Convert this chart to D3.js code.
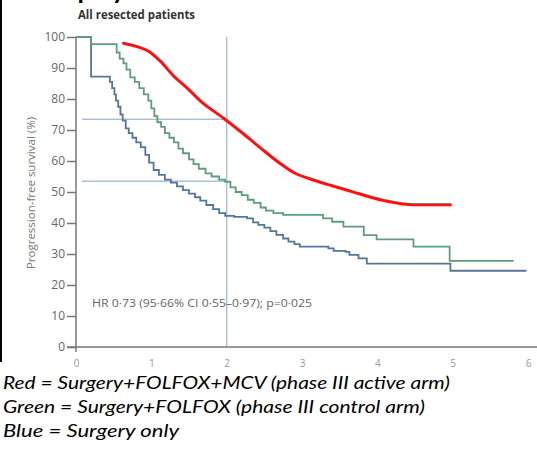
<!DOCTYPE html>
<html>
<head>
<meta charset="utf-8">
<script src="https://cdn.jsdelivr.net/npm/d3@7"></script>
<style>
  body { margin: 0; background: #fff; }
  svg { display: block; }
</style>
</head>
<body>
<svg id="chart" width="537" height="449"></svg>
<script>
/**
 * Data.
 */
const xTicks = [0, 1, 2, 3, 4, 5, 6],
    yTicks = [0, 10, 20, 30, 40, 50, 60, 70, 80, 90, 100];

// Surgery+FOLFOX (green), step curve [years, %]
const greenSteps = [
    [0, 100], [0.2, 97.7], [0.54, 95], [0.58, 93], [0.63, 91.5], [0.67, 89.5], [0.72, 87],
    [0.78, 85.5], [0.84, 83.5], [0.9, 81.5], [0.96, 79.5], [1.0, 77], [1.04, 74.5], [1.08, 72.5],
    [1.13, 71], [1.18, 69], [1.24, 67.5], [1.3, 66], [1.36, 64], [1.42, 62.5], [1.5, 60.5],
    [1.56, 59], [1.63, 57.5], [1.72, 56], [1.8, 55], [1.9, 54], [1.98, 53.3], [2.05, 51.5],
    [2.12, 50], [2.2, 49], [2.28, 47.5], [2.36, 46.5], [2.45, 45], [2.52, 44], [2.62, 43.2],
    [2.75, 42.6], [3.28, 41.5], [3.4, 40.4], [3.55, 38.8], [3.82, 36.1], [3.99, 34.7],
    [4.48, 32.4], [4.96, 27.8], [5.81, 27.8]
];

// Surgery only (blue), step curve [years, %]
const blueSteps = [
    [0, 100], [0.2, 87.2], [0.45, 85.5], [0.48, 83.5], [0.51, 81.5], [0.53, 79.5], [0.56, 77.5],
    [0.59, 75], [0.62, 73], [0.66, 70.5], [0.7, 69], [0.75, 67.5], [0.8, 66], [0.86, 64.5],
    [0.92, 62], [0.97, 59.5], [1.03, 57.1], [1.1, 55.5], [1.18, 54], [1.26, 53], [1.34, 51.8],
    [1.42, 50.6], [1.5, 49.5], [1.58, 48.3], [1.65, 47.2], [1.73, 45.8], [1.82, 44.5], [1.9, 43.2],
    [1.98, 42.3], [2.1, 42], [2.27, 41.5], [2.35, 40.2], [2.42, 39.4], [2.5, 38.5], [2.58, 37.4],
    [2.66, 36.2], [2.75, 35], [2.82, 34], [2.9, 33.2], [2.97, 32.4], [3.35, 31.8], [3.42, 31],
    [3.58, 30.7], [3.63, 29.7], [3.75, 28.6], [3.86, 26.9], [4.97, 24.6], [5.98, 24.6]
];

// Surgery+FOLFOX+MCV (red), smooth curve [years, %]
const redCurve = [
    [0.63, 98], [0.81, 96.9], [0.98, 95.2], [1.12, 92.2], [1.29, 87.6], [1.49, 83.2],
    [1.65, 79.4], [1.96, 73.8], [2.18, 69.6], [2.44, 64.4], [2.71, 59.2], [2.89, 56.3],
    [3.11, 54.2], [3.4, 52], [3.64, 50.3], [4.08, 47.3], [4.48, 45.9], [4.97, 45.9]
];

// Reference lines: two-year mark and the survival levels read there
const refTime = 2,
    refLevels = [73.5, 53.5];

const titleText = 'All resected patients',
    yLabel = 'Progression-free survival (%)',
    hrText = 'HR 0·73 (95·66% CI 0·55–0·97); p=0·025',
    legendLines = [
        'Red = Surgery+FOLFOX+MCV (phase III active arm)',
        'Green = Surgery+FOLFOX (phase III control arm)',
        'Blue = Surgery only'
    ],
    legendWidths = [447, 422, 176];

/**
 * Visual configs.
 */
const svg = d3.select('#chart');
const axisColor = '#777',
    refColor = '#adbfdb',
    tickFont = '"Open Sans", sans-serif';

const xScale = d3.scaleLinear().domain([0, 6]).range([76, 528]),
    yScale = d3.scaleLinear().domain([0, 100]).range([347, 37]);

// Left black border and cut-off heading above the chart
svg.append('rect').attr('x', 0).attr('y', 0).attr('width', 2).attr('height', 362).attr('fill', '#000');
svg.append('text')
    .attr('x', 40).attr('y', -1)
    .attr('font-family', 'Lato, sans-serif').attr('font-weight', 'bold').attr('font-size', 26)
    .attr('fill', '#000')
    .text('Display');

// Title
svg.append('text')
    .attr('x', 78).attr('y', 19)
    .attr('font-family', tickFont).attr('font-weight', 'bold').attr('font-size', 13)
    .attr('fill', '#333')
    .attr('textLength', 117).attr('lengthAdjust', 'spacingAndGlyphs')
    .text(titleText);

// Reference lines
const refs = svg.append('g').attr('class', 'refs')
    .attr('stroke', refColor).attr('stroke-width', 1.5);
refs.append('line')
    .attr('x1', xScale(refTime)).attr('x2', xScale(refTime))
    .attr('y1', yScale(100)).attr('y2', yScale(0));
refs.selectAll('.h').data(refLevels).enter().append('line')
    .attr('class', 'h')
    .attr('x1', xScale(0) + 6).attr('x2', xScale(refTime))
    .attr('y1', d => yScale(d)).attr('y2', d => yScale(d));

// Axes
const yAxis = svg.append('g')
    .attr('transform', 'translate(' + xScale(0) + ',0)')
    .call(d3.axisLeft(yScale).tickValues(yTicks).tickSize(9).tickPadding(2).tickSizeOuter(0));
yAxis.select('.domain').attr('stroke', axisColor).attr('stroke-width', 1.5)
    .attr('d', 'M0,' + yScale(100) + 'V' + (yScale(0) + 5));
yAxis.selectAll('.tick line').attr('stroke', axisColor).attr('stroke-width', 1.5);
yAxis.selectAll('.tick text').attr('fill', '#666').attr('font-size', 12).attr('font-family', tickFont);

const xAxis = svg.append('g')
    .attr('transform', 'translate(0,' + yScale(0) + ')')
    .call(d3.axisBottom(xScale).tickValues(xTicks).tickFormat(d3.format('d'))
        .tickSize(0).tickPadding(13).tickSizeOuter(0));
xAxis.select('.domain').attr('stroke', axisColor).attr('stroke-width', 1.5)
    .attr('d', 'M' + (xScale(0) - 9) + ',0H537');
xAxis.selectAll('.tick text').attr('fill', '#999').attr('font-size', 10).attr('font-family', tickFont);

// Y axis label
svg.append('text')
    .attr('transform', 'translate(35,' + 193 + ') rotate(-90)')
    .attr('text-anchor', 'middle')
    .attr('font-family', tickFont).attr('font-size', 11.5)
    .attr('fill', '#777')
    .text(yLabel);

// Survival curves
const stepLine = d3.line().x(d => xScale(d[0])).y(d => yScale(d[1])).curve(d3.curveStepAfter),
    smoothLine = d3.line().x(d => xScale(d[0])).y(d => yScale(d[1])).curve(d3.curveMonotoneX);

svg.append('path').datum(blueSteps)
    .attr('fill', 'none').attr('stroke', '#54769a').attr('stroke-width', 1.8)
    .attr('d', stepLine);
svg.append('path').datum(greenSteps)
    .attr('fill', 'none').attr('stroke', '#5f9c7c').attr('stroke-width', 1.8)
    .attr('d', stepLine);
svg.append('path').datum(redCurve)
    .attr('fill', 'none').attr('stroke', '#ff1010').attr('stroke-width', 3)
    .attr('stroke-linecap', 'round')
    .attr('d', smoothLine);

// Hazard ratio note
svg.append('text')
    .attr('x', 92).attr('y', 307)
    .attr('font-family', tickFont).attr('font-size', 11)
    .attr('fill', '#666')
    .attr('textLength', 220).attr('lengthAdjust', 'spacingAndGlyphs')
    .text(hrText);

// Legend text below the chart
svg.selectAll('.legend').data(legendLines).enter().append('text')
    .attr('class', 'legend')
    .attr('x', 3).attr('y', (d, i) => 389 + i * 24)
    .attr('font-family', 'Lato, sans-serif').attr('font-style', 'italic').attr('font-size', 17)
    .attr('fill', '#000')
    .attr('textLength', (d, i) => legendWidths[i]).attr('lengthAdjust', 'spacingAndGlyphs')
    .text(d => d);
</script>
</body>
</html>
